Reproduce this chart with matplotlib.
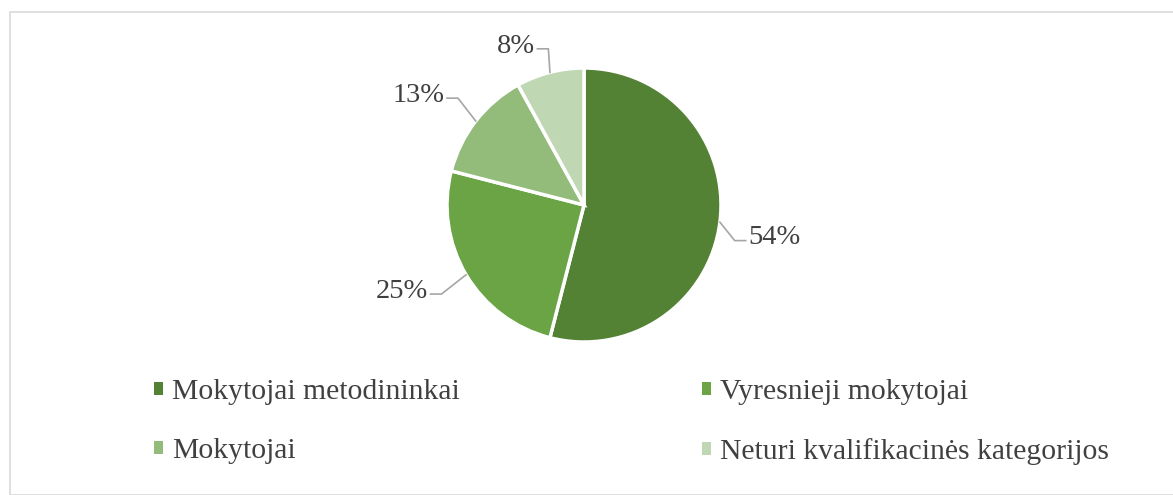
import numpy as np
import matplotlib
matplotlib.use("Agg")
import matplotlib.pyplot as plt
from matplotlib.patches import Patch, Rectangle

categories = ["Mokytojai metodininkai", "Vyresnieji mokytojai", "Mokytojai",
              "Neturi kvalifikacinės kategorijos"]
values = [54, 25, 13, 8]
colors = ["#548235", "#6AA444", "#93BC7A", "#C0D7B4"]

plt.rcParams['font.family'] = ['Liberation Serif', 'DejaVu Serif']
text_color = "#404040"

W, H = 1173, 495
fig = plt.figure(figsize=(W / 100, H / 100), dpi=100)
fig.patches.append(Rectangle((10 / W, 0), 1, 1 - 12 / H, transform=fig.transFigure,
                             fill=False, edgecolor="#D9D9D9", linewidth=1.2))

# pie centre and radius in pixels
cx, cy, r = 584, 205, 137
ax = fig.add_axes([0, 0, 1, 1])

wedges, _ = ax.pie(values, colors=colors, startangle=90, counterclock=False,
                   wedgeprops=dict(edgecolor="white", linewidth=2.5))
ax.set_aspect("auto")
ax.set_xlim(-cx / r, (W - cx) / r)
ax.set_ylim(-(H - cy) / r, cy / r)
ax.axis("off")

for w, v in zip(wedges, values):
    mid = np.deg2rad((w.theta1 + w.theta2) / 2)
    ex, ey = np.cos(mid), np.sin(mid)
    side = 1 if ex >= 0 else -1
    if v == 54:
        elbow = (1.10, -0.26)
    elif v == 25:
        elbow = (-1.04, -0.65)
    elif v == 13:
        elbow = (-0.92, 0.78)
    else:
        elbow = (-0.26, 1.14)
    tail = (elbow[0] + side * 0.08, elbow[1])
    ax.plot([ex, elbow[0], tail[0]], [ey, elbow[1], tail[1]],
            color="#A6A6A6", linewidth=1.2)
    ax.text(tail[0] + side * 0.02, tail[1] + 0.02, f"{v}%",
            ha="left" if side > 0 else "right", va="center",
            fontsize=20.5, color=text_color)

# legend fills column by column, so reorder to read row by row
order = [0, 2, 1, 3]
handles = [Patch(facecolor=colors[i]) for i in order]
labels = [categories[i] for i in order]
leg = fig.legend(handles, labels, ncol=2, loc="upper left",
                 bbox_to_anchor=(154 / W, 1 - 379 / H), frameon=False,
                 fontsize=21.3, handlelength=0.3, handleheight=0.3,
                 handletextpad=0.3, columnspacing=8.2, labelspacing=1.13,
                 borderpad=0, borderaxespad=0)
for t in leg.get_texts():
    t.set_color(text_color)

fig.savefig("out.png", dpi=100)
